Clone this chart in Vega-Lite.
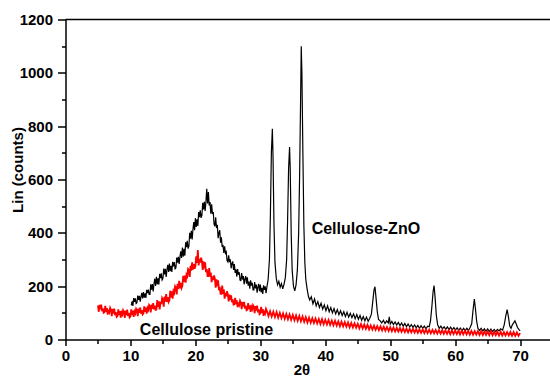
{
  "$schema": "https://vega.github.io/schema/vega-lite/v6.json",
  "autosize": "none",
  "width": 484.5,
  "height": 320,
  "padding": {"left": 65.5, "top": 19.5, "right": 0, "bottom": 36.5},
  "background": "white",
  "config": {
    "view": {"stroke": null},
    "font": "Liberation Sans",
    "axis": {"domainColor": "black", "domainWidth": 1.5, "tickColor": "black", "tickWidth": 1.5, "grid": false, "labelColor": "black", "titleColor": "black", "labelFont": "Liberation Sans", "titleFont": "Liberation Sans", "labelFontWeight": "bold", "titleFontWeight": "bold", "labelFontSize": 15, "titleFontSize": 15, "labelFlush": false, "labelOverlap": false, "labelBound": false}
  },
  "datasets": {
    "zno": [
      {"x":10.125,"y":128},{"x":10.25,"y":143},{"x":10.375,"y":126},{"x":10.5,"y":155},{"x":10.625,"y":141},{"x":10.75,"y":154},{"x":10.875,"y":135},
      {"x":11.0,"y":138},{"x":11.125,"y":165},{"x":11.25,"y":149},{"x":11.375,"y":164},{"x":11.5,"y":142},{"x":11.625,"y":161},{"x":11.75,"y":175},{"x":11.875,"y":154},
      {"x":12.0,"y":178},{"x":12.125,"y":157},{"x":12.25,"y":173},{"x":12.375,"y":156},{"x":12.5,"y":186},{"x":12.625,"y":174},{"x":12.75,"y":187},{"x":12.875,"y":169},
      {"x":13.0,"y":169},{"x":13.125,"y":207},{"x":13.25,"y":187},{"x":13.375,"y":208},{"x":13.5,"y":180},{"x":13.625,"y":208},{"x":13.75,"y":228},{"x":13.875,"y":201},
      {"x":14.0,"y":235},{"x":14.125,"y":207},{"x":14.25,"y":229},{"x":14.375,"y":206},{"x":14.5,"y":246},{"x":14.625,"y":230},{"x":14.75,"y":248},{"x":14.875,"y":223},
      {"x":15.0,"y":229},{"x":15.125,"y":266},{"x":15.25,"y":244},{"x":15.375,"y":265},{"x":15.5,"y":235},{"x":15.625,"y":262},{"x":15.75,"y":280},{"x":15.875,"y":253},
      {"x":16.0,"y":285},{"x":16.125,"y":256},{"x":16.25,"y":276},{"x":16.375,"y":253},{"x":16.5,"y":291},{"x":16.625,"y":274},{"x":16.75,"y":290},{"x":16.875,"y":265},
      {"x":17.0,"y":269},{"x":17.125,"y":307},{"x":17.25,"y":288},{"x":17.375,"y":310},{"x":17.5,"y":283},{"x":17.625,"y":311},{"x":17.75,"y":331},{"x":17.875,"y":306},
      {"x":18.0,"y":345},{"x":18.125,"y":311},{"x":18.25,"y":340},{"x":18.375,"y":314},{"x":18.5,"y":365},{"x":18.625,"y":346},{"x":18.75,"y":370},{"x":18.875,"y":341},
      {"x":19.0,"y":350},{"x":19.125,"y":400},{"x":19.25,"y":378},{"x":19.375,"y":408},{"x":19.5,"y":375},{"x":19.625,"y":413},{"x":19.75,"y":440},{"x":19.875,"y":410},
      {"x":20.0,"y":455},{"x":20.125,"y":422},{"x":20.25,"y":451},{"x":20.375,"y":426},{"x":20.5,"y":478},{"x":20.625,"y":459},{"x":20.75,"y":484},{"x":20.875,"y":456},
      {"x":21.0,"y":465},{"x":21.125,"y":513},{"x":21.25,"y":488},{"x":21.375,"y":516},{"x":21.5,"y":482},{"x":21.625,"y":517},{"x":21.75,"y":565},{"x":21.875,"y":510},
      {"x":22.0,"y":553},{"x":22.125,"y":503},{"x":22.25,"y":515},{"x":22.375,"y":472},{"x":22.5,"y":507},{"x":22.625,"y":471},{"x":22.75,"y":478},{"x":22.875,"y":433},
      {"x":23.0,"y":425},{"x":23.125,"y":458},{"x":23.25,"y":418},{"x":23.375,"y":430},{"x":23.5,"y":380},{"x":23.625,"y":400},{"x":23.75,"y":410},{"x":23.875,"y":363},
      {"x":24.0,"y":383},{"x":24.125,"y":347},{"x":24.25,"y":355},{"x":24.375,"y":325},{"x":24.5,"y":349},{"x":24.625,"y":324},{"x":24.75,"y":329},{"x":24.875,"y":296},
      {"x":25.0,"y":291},{"x":25.125,"y":316},{"x":25.25,"y":290},{"x":25.375,"y":301},{"x":25.5,"y":267},{"x":25.625,"y":284},{"x":25.75,"y":293},{"x":25.875,"y":261},
      {"x":26.0,"y":283},{"x":26.125,"y":250},{"x":26.25,"y":263},{"x":26.375,"y":236},{"x":26.5,"y":264},{"x":26.625,"y":243},{"x":26.75,"y":252},{"x":26.875,"y":223},
      {"x":27.0,"y":221},{"x":27.125,"y":249},{"x":27.25,"y":225},{"x":27.375,"y":238},{"x":27.5,"y":207},{"x":27.625,"y":226},{"x":27.75,"y":238},{"x":27.875,"y":209},
      {"x":28.0,"y":233},{"x":28.125,"y":202},{"x":28.25,"y":217},{"x":28.375,"y":191},{"x":28.5,"y":222},{"x":28.625,"y":202},{"x":28.75,"y":213},{"x":28.875,"y":186},
      {"x":29.0,"y":186},{"x":29.125,"y":215},{"x":29.25,"y":192},{"x":29.375,"y":206},{"x":29.5,"y":176},{"x":29.625,"y":196},{"x":29.75,"y":209},{"x":29.875,"y":181},
      {"x":30.0,"y":206},{"x":30.125,"y":177},{"x":30.25,"y":194},{"x":30.375,"y":171},{"x":30.5,"y":203},{"x":30.625,"y":186},{"x":30.75,"y":199},{"x":30.875,"y":174},
      {"x":31.0,"y":195},{"x":31.2,"y":225},{"x":31.4,"y":300},{"x":31.55,"y":470},{"x":31.7,"y":700},{"x":31.85,"y":790},{"x":31.95,"y":690},{"x":32.1,"y":430},{"x":32.25,"y":290},{"x":32.45,"y":230},{"x":32.65,"y":205},{"x":32.85,"y":218},{"x":33.05,"y":196},{"x":33.25,"y":210},{"x":33.45,"y":190},{"x":33.65,"y":208},{"x":33.85,"y":232},{"x":34.05,"y":300},{"x":34.2,"y":450},{"x":34.35,"y":640},{"x":34.5,"y":722},{"x":34.6,"y":640},{"x":34.75,"y":400},{"x":34.9,"y":260},{"x":35.1,"y":200},{"x":35.3,"y":182},{"x":35.5,"y":205},{"x":35.7,"y":260},{"x":35.9,"y":400},{"x":36.05,"y":620},{"x":36.2,"y":900},{"x":36.3,"y":1100},{"x":36.4,"y":1000},{"x":36.55,"y":700},{"x":36.7,"y":430},{"x":36.85,"y":290},{"x":37.0,"y":225},{"x":37.2,"y":190},{"x":37.4,"y":162},{"x":37.6,"y":148},{"x":37.85,"y":160},{"x":38.1,"y":134},{"x":38.35,"y":152},{"x":38.6,"y":126},{"x":38.85,"y":142},{"x":39.1,"y":120},{"x":39.35,"y":136},{"x":39.6,"y":114},{"x":39.85,"y":130},{"x":40.1,"y":108},{"x":40.35,"y":126},{"x":40.6,"y":104},{"x":40.85,"y":120},{"x":41.1,"y":100},{"x":41.35,"y":116},{"x":41.6,"y":96},{"x":41.85,"y":112},{"x":42.1,"y":93},{"x":42.35,"y":108},{"x":42.6,"y":90},{"x":42.85,"y":104},{"x":43.1,"y":86},{"x":43.35,"y":102},{"x":43.6,"y":84},{"x":43.85,"y":98},{"x":44.1,"y":82},{"x":44.35,"y":96},{"x":44.6,"y":78},{"x":44.85,"y":94},{"x":45.1,"y":76},{"x":45.35,"y":90},{"x":45.6,"y":72},{"x":45.85,"y":86},{"x":46.1,"y":70},{"x":46.35,"y":84},{"x":46.6,"y":68},{"x":46.85,"y":80},{"x":47.1,"y":95},{"x":47.3,"y":140},{"x":47.5,"y":185},{"x":47.65,"y":198},{"x":47.8,"y":160},{"x":48.0,"y":105},{"x":48.2,"y":75},{"x":48.45,"y":70},{"x":48.7,"y":62},{"x":48.95,"y":72},{"x":49.2,"y":60},{"x":49.45,"y":70},{"x":49.7,"y":62},{"x":49.85,"y":85},{"x":50.0,"y":58},{"x":50.25,"y":68},{"x":50.5,"y":56},{"x":50.75,"y":66},{"x":51.0,"y":54},{"x":51.25,"y":64},{"x":51.5,"y":52},{"x":51.75,"y":62},{"x":52.0,"y":50},{"x":52.25,"y":60},{"x":52.5,"y":48},{"x":52.75,"y":58},{"x":53.0,"y":47},{"x":53.25,"y":56},{"x":53.5,"y":45},{"x":53.75,"y":55},{"x":54.0,"y":44},{"x":54.25,"y":53},{"x":54.5,"y":42},{"x":54.75,"y":52},{"x":55.0,"y":42},{"x":55.25,"y":50},{"x":55.5,"y":40},{"x":55.75,"y":50},{"x":56.0,"y":48},{"x":56.2,"y":70},{"x":56.4,"y":120},{"x":56.6,"y":180},{"x":56.75,"y":202},{"x":56.9,"y":160},{"x":57.1,"y":90},{"x":57.3,"y":55},{"x":57.55,"y":42},{"x":57.8,"y":50},{"x":58.05,"y":40},{"x":58.3,"y":48},{"x":58.55,"y":38},{"x":58.8,"y":47},{"x":59.05,"y":37},{"x":59.3,"y":46},{"x":59.55,"y":36},{"x":59.8,"y":45},{"x":60.05,"y":35},{"x":60.3,"y":44},{"x":60.55,"y":34},{"x":60.8,"y":43},{"x":61.05,"y":33},{"x":61.3,"y":42},{"x":61.55,"y":33},{"x":61.8,"y":42},{"x":62.05,"y":34},{"x":62.3,"y":45},{"x":62.55,"y":60},{"x":62.75,"y":110},{"x":62.95,"y":152},{"x":63.1,"y":120},{"x":63.3,"y":70},{"x":63.5,"y":42},{"x":63.75,"y":34},{"x":64.0,"y":42},{"x":64.25,"y":32},{"x":64.5,"y":40},{"x":64.75,"y":31},{"x":65.0,"y":40},{"x":65.25,"y":30},{"x":65.5,"y":39},{"x":65.75,"y":30},{"x":66.0,"y":38},{"x":66.25,"y":30},{"x":66.5,"y":38},{"x":66.75,"y":32},{"x":67.0,"y":40},{"x":67.3,"y":35},{"x":67.55,"y":55},{"x":67.8,"y":90},{"x":68.0,"y":112},{"x":68.2,"y":85},{"x":68.4,"y":50},{"x":68.6,"y":42},{"x":68.8,"y":55},{"x":69.0,"y":62},{"x":69.2,"y":70},{"x":69.4,"y":58},{"x":69.6,"y":45},{"x":69.8,"y":38},{"x":70.0,"y":32}
    ],
    "pristine": [
      {"x":5.0,"y":128},{"x":5.125,"y":104},{"x":5.25,"y":130},{"x":5.375,"y":113},{"x":5.5,"y":131},{"x":5.625,"y":106},{"x":5.75,"y":117},{"x":5.875,"y":100},
      {"x":6.0,"y":102},{"x":6.125,"y":126},{"x":6.25,"y":104},{"x":6.375,"y":118},{"x":6.5,"y":93},{"x":6.625,"y":112},{"x":6.75,"y":103},{"x":6.875,"y":119},
      {"x":7.0,"y":112},{"x":7.125,"y":88},{"x":7.25,"y":115},{"x":7.375,"y":97},{"x":7.5,"y":116},{"x":7.625,"y":91},{"x":7.75,"y":103},{"x":7.875,"y":85},
      {"x":8.0,"y":88},{"x":8.125,"y":113},{"x":8.25,"y":92},{"x":8.375,"y":106},{"x":8.5,"y":82},{"x":8.625,"y":101},{"x":8.75,"y":94},{"x":8.875,"y":110},
      {"x":9.0,"y":104},{"x":9.125,"y":81},{"x":9.25,"y":108},{"x":9.375,"y":92},{"x":9.5,"y":112},{"x":9.625,"y":88},{"x":9.75,"y":100},{"x":9.875,"y":83},
      {"x":10.0,"y":87},{"x":10.125,"y":113},{"x":10.25,"y":92},{"x":10.375,"y":108},{"x":10.5,"y":85},{"x":10.625,"y":105},{"x":10.75,"y":98},{"x":10.875,"y":115},
      {"x":11.0,"y":110},{"x":11.125,"y":88},{"x":11.25,"y":116},{"x":11.375,"y":100},{"x":11.5,"y":120},{"x":11.625,"y":97},{"x":11.75,"y":110},{"x":11.875,"y":94},
      {"x":12.0,"y":98},{"x":12.125,"y":124},{"x":12.25,"y":104},{"x":12.375,"y":120},{"x":12.5,"y":97},{"x":12.625,"y":118},{"x":12.75,"y":111},{"x":12.875,"y":129},
      {"x":13.0,"y":124},{"x":13.125,"y":102},{"x":13.25,"y":131},{"x":13.375,"y":115},{"x":13.5,"y":136},{"x":13.625,"y":113},{"x":13.75,"y":127},{"x":13.875,"y":111},
      {"x":14.0,"y":112},{"x":14.125,"y":148},{"x":14.25,"y":122},{"x":14.375,"y":143},{"x":14.5,"y":113},{"x":14.625,"y":141},{"x":14.75,"y":133},{"x":14.875,"y":156},
      {"x":15.0,"y":150},{"x":15.125,"y":123},{"x":15.25,"y":161},{"x":15.375,"y":142},{"x":15.5,"y":170},{"x":15.625,"y":141},{"x":15.75,"y":159},{"x":15.875,"y":140},
      {"x":16.0,"y":146},{"x":16.125,"y":183},{"x":16.25,"y":158},{"x":16.375,"y":181},{"x":16.5,"y":153},{"x":16.625,"y":182},{"x":16.75,"y":175},{"x":16.875,"y":200},
      {"x":17.0,"y":195},{"x":17.125,"y":169},{"x":17.25,"y":209},{"x":17.375,"y":190},{"x":17.5,"y":220},{"x":17.625,"y":192},{"x":17.75,"y":212},{"x":17.875,"y":193},
      {"x":18.0,"y":201},{"x":18.125,"y":239},{"x":18.25,"y":216},{"x":18.375,"y":240},{"x":18.5,"y":213},{"x":18.625,"y":243},{"x":18.75,"y":237},{"x":18.875,"y":264},
      {"x":19.0,"y":260},{"x":19.125,"y":235},{"x":19.25,"y":276},{"x":19.375,"y":258},{"x":19.5,"y":289},{"x":19.625,"y":262},{"x":19.75,"y":283},{"x":19.875,"y":265},
      {"x":20.0,"y":274},{"x":20.125,"y":312},{"x":20.25,"y":287},{"x":20.375,"y":335},{"x":20.5,"y":278},{"x":20.625,"y":302},{"x":20.75,"y":289},{"x":20.875,"y":307},
      {"x":21.0,"y":295},{"x":21.125,"y":261},{"x":21.25,"y":293},{"x":21.375,"y":267},{"x":21.5,"y":289},{"x":21.625,"y":252},{"x":21.75,"y":264},{"x":21.875,"y":238},
      {"x":22.0,"y":238},{"x":22.125,"y":268},{"x":22.25,"y":236},{"x":22.375,"y":251},{"x":22.5,"y":215},{"x":22.625,"y":237},{"x":22.75,"y":223},{"x":22.875,"y":240},
      {"x":23.0,"y":228},{"x":23.125,"y":194},{"x":23.25,"y":226},{"x":23.375,"y":200},{"x":23.5,"y":222},{"x":23.625,"y":185},{"x":23.75,"y":197},{"x":23.875,"y":171},
      {"x":24.0,"y":171},{"x":24.125,"y":202},{"x":24.25,"y":171},{"x":24.375,"y":188},{"x":24.5,"y":153},{"x":24.625,"y":175},{"x":24.75,"y":162},{"x":24.875,"y":181},
      {"x":25.0,"y":168},{"x":25.125,"y":143},{"x":25.25,"y":168},{"x":25.375,"y":149},{"x":25.5,"y":166},{"x":25.625,"y":140},{"x":25.75,"y":150},{"x":25.875,"y":131},
      {"x":26.0,"y":132},{"x":26.125,"y":156},{"x":26.25,"y":133},{"x":26.375,"y":147},{"x":26.5,"y":121},{"x":26.625,"y":139},{"x":26.75,"y":130},{"x":26.875,"y":145},
      {"x":27.0,"y":138},{"x":27.125,"y":114},{"x":27.25,"y":140},{"x":27.375,"y":123},{"x":27.5,"y":141},{"x":27.625,"y":116},{"x":27.75,"y":127},{"x":27.875,"y":110},
      {"x":28.0,"y":112},{"x":28.125,"y":136},{"x":28.25,"y":114},{"x":28.375,"y":128},{"x":28.5,"y":104},{"x":28.625,"y":122},{"x":28.75,"y":114},{"x":28.875,"y":129},
      {"x":29.0,"y":123},{"x":29.125,"y":99},{"x":29.25,"y":125},{"x":29.375,"y":108},{"x":29.5,"y":127},{"x":29.625,"y":102},{"x":29.75,"y":113},{"x":29.875,"y":95},
      {"x":30.0,"y":98},{"x":30.125,"y":122},{"x":30.25,"y":100},{"x":30.375,"y":114},{"x":30.5,"y":89},{"x":30.625,"y":108},{"x":30.75,"y":99},{"x":30.875,"y":115},
      {"x":31.0,"y":108},{"x":31.25,"y":88},{"x":31.5,"y":106},{"x":31.75,"y":86},{"x":32.0,"y":104},{"x":32.25,"y":84},{"x":32.5,"y":103},{"x":32.75,"y":82},{"x":33.0,"y":100},{"x":33.25,"y":80},{"x":33.5,"y":98},{"x":33.75,"y":78},{"x":34.0,"y":96},{"x":34.25,"y":76},{"x":34.5,"y":94},{"x":34.75,"y":74},{"x":35.0,"y":92},{"x":35.25,"y":72},{"x":35.5,"y":90},{"x":35.75,"y":70},{"x":36.0,"y":88},{"x":36.25,"y":68},{"x":36.5,"y":86},{"x":36.75,"y":66},{"x":37.0,"y":84},{"x":37.25,"y":64},{"x":37.5,"y":82},{"x":37.75,"y":63},{"x":38.0,"y":80},{"x":38.25,"y":62},{"x":38.5,"y":79},{"x":38.75,"y":60},{"x":39.0,"y":77},{"x":39.25,"y":58},{"x":39.5,"y":76},{"x":39.75,"y":57},{"x":40.0,"y":74},{"x":40.25,"y":56},{"x":40.5,"y":73},{"x":40.75,"y":55},{"x":41.0,"y":71},{"x":41.25,"y":53},{"x":41.5,"y":70},{"x":41.75,"y":52},{"x":42.0,"y":68},{"x":42.25,"y":50},{"x":42.5,"y":67},{"x":42.75,"y":49},{"x":43.0,"y":65},{"x":43.25,"y":48},{"x":43.5,"y":64},{"x":43.75,"y":46},{"x":44.0,"y":62},{"x":44.25,"y":45},{"x":44.5,"y":61},{"x":44.75,"y":44},{"x":45.0,"y":59},{"x":45.25,"y":42},{"x":45.5,"y":58},{"x":45.75,"y":41},{"x":46.0,"y":56},{"x":46.25,"y":40},{"x":46.5,"y":55},{"x":46.75,"y":38},{"x":47.0,"y":53},{"x":47.25,"y":37},{"x":47.5,"y":52},{"x":47.75,"y":36},{"x":48.0,"y":50},{"x":48.25,"y":35},{"x":48.5,"y":49},{"x":48.75,"y":34},{"x":49.0,"y":48},{"x":49.25,"y":33},{"x":49.5,"y":47},{"x":49.75,"y":32},{"x":50.0,"y":46},{"x":50.25,"y":31},{"x":50.5,"y":45},{"x":50.75,"y":30},{"x":51.0,"y":44},{"x":51.25,"y":30},{"x":51.5,"y":43},{"x":51.75,"y":29},{"x":52.0,"y":42},{"x":52.25,"y":28},{"x":52.5,"y":41},{"x":52.75,"y":27},{"x":53.0,"y":40},{"x":53.25,"y":27},{"x":53.5,"y":40},{"x":53.75,"y":26},{"x":54.0,"y":39},{"x":54.25,"y":25},{"x":54.5,"y":38},{"x":54.75,"y":25},{"x":55.0,"y":38},{"x":55.25,"y":24},{"x":55.5,"y":37},{"x":55.75,"y":24},{"x":56.0,"y":37},{"x":56.25,"y":23},{"x":56.5,"y":36},{"x":56.75,"y":23},{"x":57.0,"y":36},{"x":57.25,"y":22},{"x":57.5,"y":35},{"x":57.75,"y":22},{"x":58.0,"y":35},{"x":58.25,"y":21},{"x":58.5,"y":34},{"x":58.75,"y":21},{"x":59.0,"y":34},{"x":59.25,"y":20},{"x":59.5,"y":34},{"x":59.75,"y":20},{"x":60.0,"y":33},{"x":60.25,"y":20},{"x":60.5,"y":33},{"x":60.75,"y":19},{"x":61.0,"y":33},{"x":61.25,"y":19},{"x":61.5,"y":32},{"x":61.75,"y":19},{"x":62.0,"y":32},{"x":62.25,"y":18},{"x":62.5,"y":32},{"x":62.75,"y":18},{"x":63.0,"y":31},{"x":63.25,"y":18},{"x":63.5,"y":31},{"x":63.75,"y":17},{"x":64.0,"y":31},{"x":64.25,"y":17},{"x":64.5,"y":30},{"x":64.75,"y":17},{"x":65.0,"y":30},{"x":65.25,"y":16},{"x":65.5,"y":30},{"x":65.75,"y":16},{"x":66.0,"y":29},{"x":66.25,"y":16},{"x":66.5,"y":29},{"x":66.75,"y":15},{"x":67.0,"y":29},{"x":67.25,"y":15},{"x":67.5,"y":28},{"x":67.75,"y":15},{"x":68.0,"y":28},{"x":68.25,"y":15},{"x":68.5,"y":28},{"x":68.75,"y":14},{"x":69.0,"y":28},{"x":69.25,"y":14},{"x":69.5,"y":27},{"x":69.75,"y":14},{"x":70.0,"y":24}
    ],
    "labels": [
      {"x": 37.9, "y": 414, "text": "Cellulose-ZnO"},
      {"x": 11.45, "y": 36, "text": "Cellulose pristine"}
    ]
  },
  "encoding": {
    "x": {"field": "x", "type": "quantitative", "scale": {"domain": [0, 74.6], "nice": false, "zero": false},
      "axis": {"title": "2θ", "values": [0,5,10,15,20,25,30,35,40,45,50,55,60,65,70],
        "labelExpr": "datum.value % 10 === 0 ? datum.label : ''",
        "tickSize": {"condition": {"test": "datum.value % 10 === 0", "value": 6}, "value": 4},
        "labelPadding": 3, "titleX": 236, "titleY": 34.5, "titleBaseline": "alphabetic", "titleAlign": "center"}},
    "y": {"field": "y", "type": "quantitative", "scale": {"domain": [0, 1200], "nice": false},
      "axis": {"title": "Lin (counts)", "format": "d", "values": [0,100,200,300,400,500,600,700,800,900,1000,1100,1200],
        "labelExpr": "datum.value % 200 === 0 ? datum.label : ''",
        "tickSize": {"condition": {"test": "datum.value % 200 === 0", "value": 8}, "value": 4},
        "labelPadding": 5, "titleX": -48, "titleY": 150, "titleAngle": -90, "titleAlign": "center", "titleBaseline": "middle"}}
  },
  "layer": [
    {"data": {"name": "zno"}, "mark": {"type": "line", "color": "black", "strokeWidth": 1.2, "clip": true}},
    {"data": {"name": "pristine"}, "mark": {"type": "line", "color": "#ff0000", "strokeWidth": 1.8, "clip": true}},
    {"data": {"values": [{"v": 1200}]}, "mark": {"type": "rule", "color": "black", "strokeWidth": 1.5}, "encoding": {"y": {"field": "v", "type": "quantitative"}, "x": {"value": 0}, "x2": {"value": 484.5}}},
    {"data": {"name": "labels"}, "mark": {"type": "text", "align": "left", "baseline": "middle", "fontSize": 16, "fontWeight": "bold", "font": "Liberation Sans", "color": "black"}, "encoding": {"text": {"field": "text"}}}
  ]
}
